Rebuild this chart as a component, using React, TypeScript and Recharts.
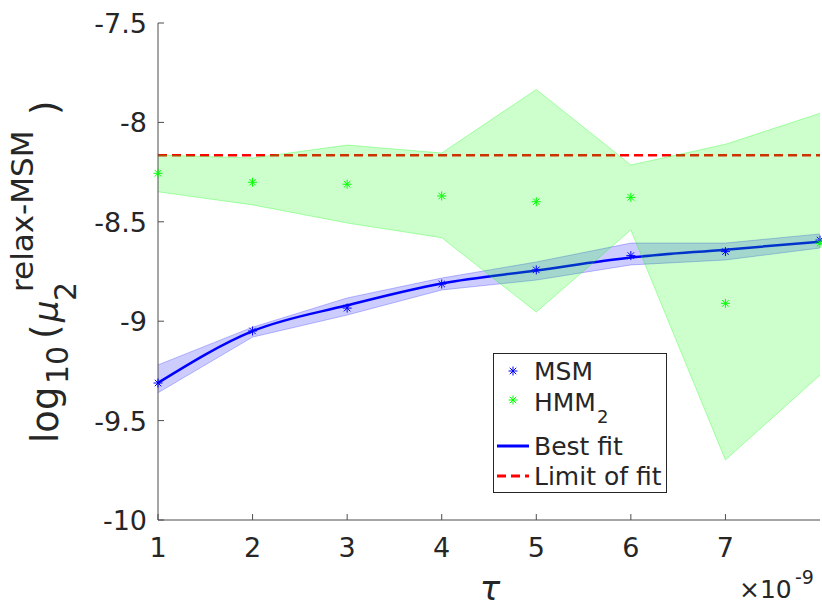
import { ComposedChart, Area, Line, Scatter, XAxis, YAxis } from 'recharts'

// lag time tau (units of 1e-9)
const TAU = [1, 2, 3, 4, 5, 6, 7, 8]

// log10 of the relaxation rate estimates
const MSM = [-9.311, -9.049, -8.934, -8.813, -8.742, -8.67, -8.65, -8.592]
const MSM_LO = [-9.36, -9.08, -8.969, -8.843, -8.793, -8.717, -8.692, -8.632]
const MSM_HI = [-9.22, -9.03, -8.883, -8.783, -8.702, -8.607, -8.607, -8.561]
const FIT = [-9.31, -9.05, -8.92, -8.81, -8.745, -8.68, -8.64, -8.6]

const HMM2 = [-8.256, -8.301, -8.311, -8.37, -8.399, -8.377, -8.91, -8.608]
const HMM_LO = [-8.349, -8.415, -8.506, -8.58, -8.954, -8.541, -9.698, -9.271]
const HMM_HI = [-8.164, -8.179, -8.114, -8.154, -7.834, -8.214, -8.11, -7.954]

const LIMIT_OF_FIT = -8.165

const X_TICKS = [1, 2, 3, 4, 5, 6, 7]
const Y_TICKS = [-10, -9.5, -9, -8.5, -8, -7.5]

const rows = TAU.map((t, i) => ({
  tau: t,
  msm: MSM[i],
  hmm: HMM2[i],
  fit: FIT[i],
  limit: LIMIT_OF_FIT,
  msmBand: [MSM_LO[i], MSM_HI[i]],
  hmmBand: [HMM_LO[i], HMM_HI[i]],
}))

const FONT = 'DejaVu Sans'
const INK = '#262626'
const AXIS = '#4d4d4d'
const BLUE = '#0000ff'
const GREEN = '#00ff00'
const RED = '#ff0000'
const TICK_LEN = 6

function Star({ cx, cy, color }: { cx: number; cy: number; color: string }) {
  const r = 4.5
  const d = r * 0.72
  return (
    <g stroke={color} strokeWidth={1}>
      <line x1={cx - r} y1={cy} x2={cx + r} y2={cy} />
      <line x1={cx} y1={cy - r} x2={cx} y2={cy + r} />
      <line x1={cx - d} y1={cy - d} x2={cx + d} y2={cy + d} />
      <line x1={cx - d} y1={cy + d} x2={cx + d} y2={cy - d} />
    </g>
  )
}

function BottomTick({ x, y, payload }: any) {
  return (
    <g>
      <line x1={x} y1={y} x2={x} y2={y - TICK_LEN} stroke={AXIS} />
      <text x={x} y={y + 37} textAnchor="middle" fontFamily={FONT} fontSize={27} fill={INK}>
        {payload.value}
      </text>
    </g>
  )
}

function TopTick({ x, y }: any) {
  return <line x1={x} y1={y} x2={x} y2={y + TICK_LEN} stroke={AXIS} />
}

function LeftTick({ x, y, payload }: any) {
  return (
    <g>
      <line x1={x} y1={y} x2={x + TICK_LEN} y2={y} stroke={AXIS} />
      <text x={x - 11} y={y + 10} textAnchor="end" fontFamily={FONT} fontSize={27} fill={INK}>
        {payload.value}
      </text>
    </g>
  )
}

function RightTick({ x, y }: any) {
  return <line x1={x} y1={y} x2={x - TICK_LEN} y2={y} stroke={AXIS} />
}

// rotated text: p = distance up the page where the run starts, b = baseline x
function Up({ p, b, size, italic, children }: any) {
  return (
    <text
      x={-p}
      y={b}
      transform="rotate(-90)"
      fontFamily={FONT}
      fontSize={size}
      fontStyle={italic ? 'italic' : 'normal'}
      fill={INK}
    >
      {children}
    </text>
  )
}

function YTitle() {
  return (
    <g>
      <Up p={443} b={58} size={37}>log</Up>
      <Up p={384} b={68} size={30}>10</Up>
      <Up p={339} b={58} size={37}>(</Up>
      <Up p={322} b={58} size={34} italic>μ</Up>
      <Up p={301} b={76} size={30}>2</Up>
      <Up p={292} b={33} size={31}>relax-MSM</Up>
      <Up p={115} b={58} size={37}>)</Up>
    </g>
  )
}

function XTitle() {
  return (
    <g fontFamily={FONT} fill={INK}>
      <text x={490} y={600} textAnchor="middle" fontSize={34} fontStyle="italic">τ</text>
      <text x={739} y={598} fontSize={25}>×10</text>
      <text x={795} y={584} fontSize={19}>-9</text>
    </g>
  )
}

function LegendBox() {
  const tx = 40
  return (
    <div
      style={{
        position: 'absolute',
        left: 493,
        top: 353,
        width: 174,
        height: 140,
        boxSizing: 'border-box',
        border: `1px solid ${INK}`,
        background: '#fff',
      }}
    >
      <svg width={172} height={138} style={{ position: 'absolute', left: 0, top: 0 }}>
        <g fontFamily={FONT} fill={INK} fontSize={25}>
          <Star cx={19} cy={17} color={BLUE} />
          <text x={tx} y={26}>MSM</text>
          <Star cx={19} cy={46} color={GREEN} />
          <text x={tx} y={57}>HMM</text>
          <text x={tx + 63} y={69} fontSize={18}>2</text>
          <line x1={3} y1={92} x2={35} y2={92} stroke={BLUE} strokeWidth={3} />
          <text x={tx} y={101}>Best fit</text>
          <line x1={3} y1={122} x2={35} y2={122} stroke={RED} strokeWidth={3} strokeDasharray="9 5" />
          <text x={tx} y={131}>Limit of fit</text>
        </g>
      </svg>
    </div>
  )
}

export default function App() {
  return (
    <div style={{ position: 'absolute', left: 0, top: 0, width: 822, height: 608, background: '#fff' }}>
      <ComposedChart width={822} height={608} data={rows} margin={{ top: 23, right: 2, bottom: 0, left: 0 }}>
        <XAxis
          dataKey="tau"
          type="number"
          domain={[1, 8]}
          ticks={X_TICKS}
          interval={0}
          height={88}
          tickSize={0}
          tickMargin={0}
          tickLine={false}
          tick={<BottomTick />}
          axisLine={{ stroke: AXIS }}
          label={{ content: () => <XTitle /> }}
        />
        <XAxis
          xAxisId="top"
          orientation="top"
          type="number"
          domain={[1, 8]}
          ticks={X_TICKS}
          interval={0}
          height={0}
          tickSize={0}
          tickMargin={0}
          tickLine={false}
          tick={<TopTick />}
          axisLine={{ stroke: AXIS }}
        />
        <YAxis
          type="number"
          domain={[-10, -7.5]}
          ticks={Y_TICKS}
          interval={0}
          width={158}
          tickSize={0}
          tickMargin={0}
          tickLine={false}
          tick={<LeftTick />}
          axisLine={{ stroke: AXIS }}
          label={{ content: () => <YTitle /> }}
        />
        <YAxis
          yAxisId="right"
          orientation="right"
          type="number"
          domain={[-10, -7.5]}
          ticks={Y_TICKS}
          interval={0}
          width={0}
          tickSize={0}
          tickMargin={0}
          tickLine={false}
          tick={<RightTick />}
          axisLine={{ stroke: AXIS }}
        />
        {/* limit of fit: drawn as an unfilled area so the HMM band shades over it */}
        <Area
          dataKey="limit"
          type="linear"
          fill="none"
          stroke={RED}
          strokeWidth={2.5}
          strokeDasharray="9 5"
          activeDot={false}
          isAnimationActive={false}
        />
        <Area
          dataKey="msmBand"
          type="linear"
          fill={BLUE}
          fillOpacity={0.2}
          stroke={BLUE}
          strokeOpacity={0.25}
          isAnimationActive={false}
        />
        <Line
          dataKey="fit"
          type="monotone"
          stroke={BLUE}
          strokeWidth={2.5}
          dot={false}
          activeDot={false}
          isAnimationActive={false}
        />
        <Area
          dataKey="hmmBand"
          type="linear"
          fill={GREEN}
          fillOpacity={0.2}
          stroke={GREEN}
          strokeOpacity={0.3}
          zIndex={450}
          isAnimationActive={false}
        />
        <Scatter
          dataKey="msm"
          isAnimationActive={false}
          shape={(p: any) => <Star cx={p.cx} cy={p.cy} color={BLUE} />}
        />
        <Scatter
          dataKey="hmm"
          isAnimationActive={false}
          shape={(p: any) => <Star cx={p.cx} cy={p.cy} color={GREEN} />}
        />
      </ComposedChart>
      <LegendBox />
    </div>
  )
}
